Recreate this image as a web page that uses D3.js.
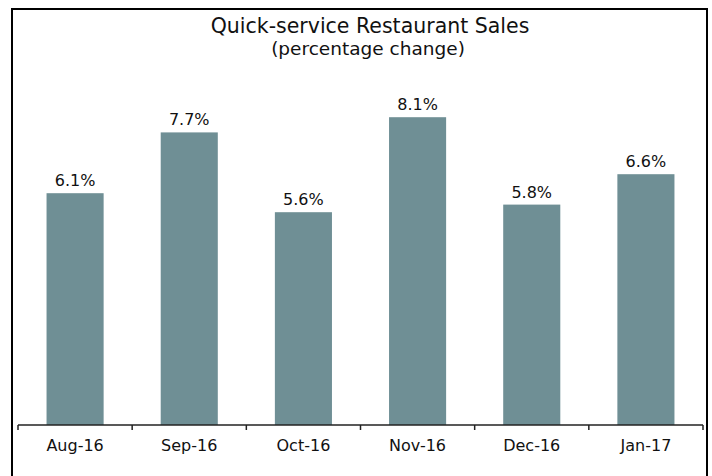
<!DOCTYPE html>
<html>
<head>
<meta charset="utf-8">
<script src="https://cdn.jsdelivr.net/npm/d3@7"></script>
<style>
  body { margin: 0; background: #fff; }
  text { font-family: "DejaVu Sans", Verdana, sans-serif; fill: #111; }
</style>
</head>
<body>
<div id="chart"></div>
<script>
// chart data
const MONTHS = ["Aug-16", "Sep-16", "Oct-16", "Nov-16", "Dec-16", "Jan-17"];
const SALES = [6.1, 7.7, 5.6, 8.1, 5.8, 6.6];

const FRAME_WIDTH = 712;
const FRAME_HEIGHT = 476;
const MARGINS = {left: 18, right: 9, top: 45, bottom: 51};

const SVG = d3.select("#chart")
  .append("svg")
    .attr("width", FRAME_WIDTH)
    .attr("height", FRAME_HEIGHT);

// outer frame
SVG.append("rect")
  .attr("x", 12).attr("y", 9)
  .attr("width", 695).attr("height", 480)
  .attr("fill", "none")
  .attr("stroke", "#000")
  .attr("stroke-width", 2);

// scales
const X = d3.scaleBand()
  .domain(MONTHS)
  .range([MARGINS.left, FRAME_WIDTH - MARGINS.right])
  .paddingInner(0.5)
  .paddingOuter(0.25);

const Y = d3.scaleLinear()
  .domain([0, 10])
  .range([FRAME_HEIGHT - MARGINS.bottom, MARGINS.top]);

// bars
SVG.selectAll(".bar")
  .data(SALES)
  .enter()
  .append("rect")
    .attr("class", "bar")
    .attr("x", (d, i) => X(MONTHS[i]))
    .attr("y", (d) => Y(d))
    .attr("width", X.bandwidth())
    .attr("height", (d) => Y(0) - Y(d))
    .attr("fill", "#6f8f95");

// value labels
SVG.selectAll(".val")
  .data(SALES)
  .enter()
  .append("text")
    .attr("x", (d, i) => X(MONTHS[i]) + X.bandwidth() / 2)
    .attr("y", (d) => Y(d) - 7)
    .attr("text-anchor", "middle")
    .style("font-size", "16px")
    .text((d) => d.toFixed(1) + "%");

// x axis: line with ticks between categories
const step = X.step();
const edges = d3.range(MONTHS.length + 1).map((i) => MARGINS.left + i * step);
const AXIS = SVG.append("g");
AXIS.append("line")
  .attr("x1", edges[0]).attr("x2", edges[edges.length - 1])
  .attr("y1", Y(0)).attr("y2", Y(0))
  .attr("stroke", "#222").attr("stroke-width", 1.5);
AXIS.selectAll(".tick")
  .data(edges)
  .enter()
  .append("line")
    .attr("x1", (d) => d).attr("x2", (d) => d)
    .attr("y1", Y(0)).attr("y2", Y(0) + 5)
    .attr("stroke", "#222").attr("stroke-width", 1.5);
AXIS.selectAll(".lab")
  .data(MONTHS)
  .enter()
  .append("text")
    .attr("x", (d) => X(d) + X.bandwidth() / 2)
    .attr("y", Y(0) + 26)
    .attr("text-anchor", "middle")
    .style("font-size", "16px")
    .text((d) => d);

// titles
SVG.append("text")
  .attr("x", 370).attr("y", 33)
  .attr("text-anchor", "middle")
  .style("font-size", "20.5px")
  .text("Quick-service Restaurant Sales");
SVG.append("text")
  .attr("x", 368).attr("y", 55)
  .attr("text-anchor", "middle")
  .style("font-size", "18.5px")
  .text("(percentage change)");
</script>
</body>
</html>
